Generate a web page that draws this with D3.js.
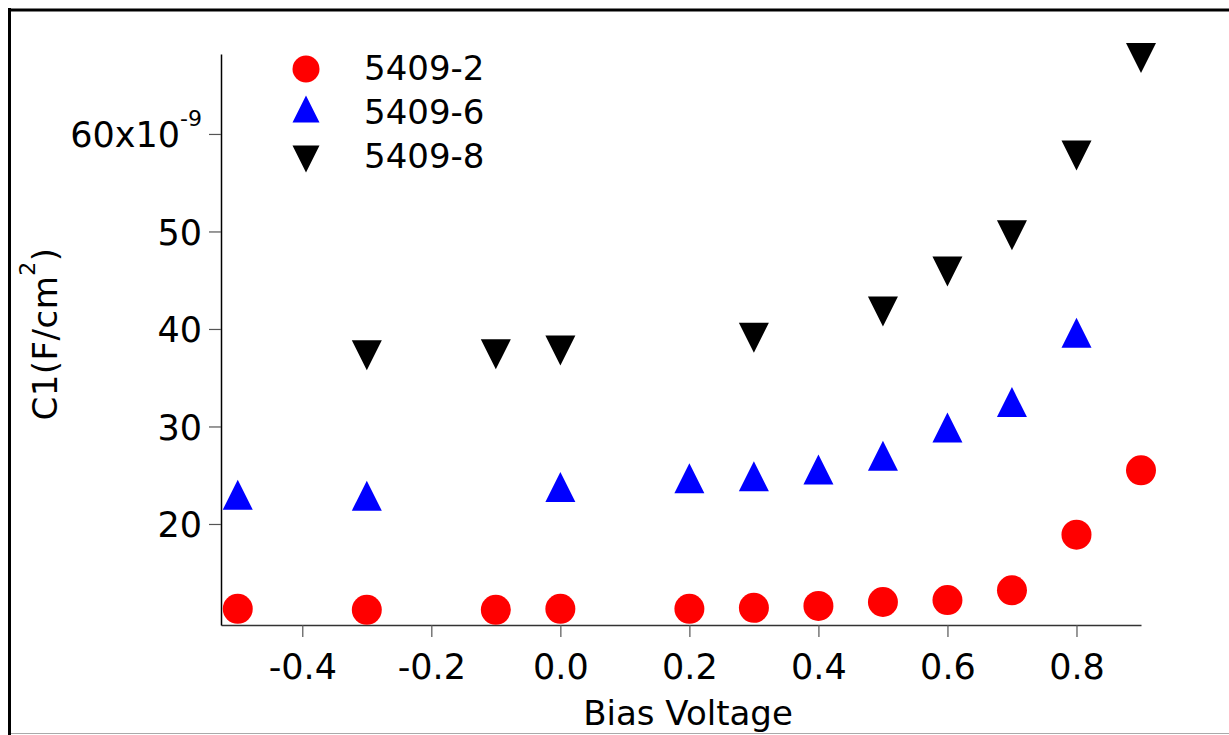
<!DOCTYPE html>
<html>
<head>
<meta charset="utf-8">
<script src="https://cdn.jsdelivr.net/npm/d3@7"></script>
<style>
  html, body { margin: 0; padding: 0; background: #fff; }
  svg { display: block; font-family: "DejaVu Sans", Verdana, sans-serif; }
</style>
</head>
<body>
<svg id="chart" width="1229" height="735"></svg>
<script>
// ---- data (C1 in units of 1e-9 F/cm^2) ----
const seriesNames = ["5409-2", "5409-6", "5409-8"];
const seriesColors = ["#ff0000", "#0000ff", "#000000"];
const seriesShapes = ["circle", "triangleUp", "triangleDown"];

const bias_5409_2 = [-0.5, -0.3, -0.1, 0.0, 0.2, 0.3, 0.4, 0.5, 0.6, 0.7, 0.8, 0.9];
const c1_5409_2   = [11.3, 11.2, 11.2, 11.3, 11.3, 11.4, 11.6, 12.0, 12.2, 13.2, 18.9, 25.5];

const bias_5409_6 = [-0.5, -0.3, 0.0, 0.2, 0.3, 0.4, 0.5, 0.6, 0.7, 0.8];
const c1_5409_6   = [23.0, 22.9, 23.8, 24.7, 24.9, 25.6, 27.0, 29.9, 32.5, 39.6];

const bias_5409_8 = [-0.3, -0.1, 0.0, 0.3, 0.5, 0.6, 0.7, 0.8, 0.9];
const c1_5409_8   = [37.3, 37.4, 37.8, 39.1, 41.8, 45.9, 49.6, 57.8, 67.8];

const xTicks = [-0.4, -0.2, 0.0, 0.2, 0.4, 0.6, 0.8];
const yTicks = [20, 30, 40, 50, 60];
const xLabel = "Bias Voltage";

const series = [
  { x: bias_5409_2, y: c1_5409_2 },
  { x: bias_5409_6, y: c1_5409_6 },
  { x: bias_5409_8, y: c1_5409_8 }
].map((s, i) => ({
  name: seriesNames[i], color: seriesColors[i], shape: seriesShapes[i],
  points: s.x.map((v, j) => ({ x: v, y: s.y[j] }))
}));

// ---- layout ----
const svg = d3.select("#chart");
const plotL = 221, plotR = 1141, plotT = 54, plotB = 625;
const x = d3.scaleLinear().domain([-0.526, 0.9]).range([plotL, plotR]);
const y = d3.scaleLinear().domain([9.64, 68.2]).range([plotB, plotT]);

function markerPath(shape, s) {
  const h = s / 2;
  if (shape === "circle") {
    const p = d3.path(); p.arc(0, 0, h, 0, 2 * Math.PI); p.closePath(); return p.toString();
  }
  if (shape === "triangleUp") return `M0,${-h}L${h},${h}L${-h},${h}Z`;
  return `M0,${h}L${h},${-h}L${-h},${-h}Z`;
}

// frame
svg.append("line").attr("x1", 9.5).attr("x2", 9.5).attr("y1", 8).attr("y2", 735)
  .attr("stroke", "#000").attr("stroke-width", 3);
svg.append("line").attr("x1", 8).attr("x2", 1229).attr("y1", 10).attr("y2", 10)
  .attr("stroke", "#000").attr("stroke-width", 3);
svg.append("line").attr("x1", 11).attr("x2", 1229).attr("y1", 733.5).attr("y2", 733.5)
  .attr("stroke", "#aaa").attr("stroke-width", 1);

// x axis
const xAxis = svg.append("g").attr("transform", `translate(0,${plotB})`)
  .call(d3.axisBottom(x).tickValues(xTicks).tickSize(12).tickSizeOuter(0).tickPadding(17)
    .tickFormat(d => d3.format(".1f")(d).replace("\u2212", "-")));
xAxis.select(".domain").attr("stroke", "#333").attr("stroke-width", 1.5);
xAxis.selectAll(".tick line").attr("stroke", "#555").attr("stroke-width", 1.2);
xAxis.selectAll(".tick text").attr("font-size", 35).attr("fill", "#000")
  .attr("font-family", "DejaVu Sans");

// y axis
const yAxis = svg.append("g").attr("transform", `translate(${plotL},0)`)
  .call(d3.axisLeft(y).tickValues(yTicks).tickSize(12).tickSizeOuter(0).tickPadding(7));
yAxis.select(".domain").attr("stroke", "#000").attr("stroke-width", 1.5);
yAxis.selectAll(".tick line").attr("stroke", "#555").attr("stroke-width", 1.2);
yAxis.selectAll(".tick text").attr("font-size", 35).attr("fill", "#000")
  .attr("font-family", "DejaVu Sans").attr("dy", "0.36em");
yAxis.selectAll(".tick text").filter(d => d === 60).each(function () {
  const t = d3.select(this).text("");
  t.append("tspan").text("60x10");
  t.append("tspan").attr("font-size", 22).attr("dy", "-0.95em").text("-9");
});

// axis labels
svg.append("text").attr("x", 688).attr("y", 725)
  .attr("text-anchor", "middle").attr("font-size", 34).attr("fill", "#000").text(xLabel);

const yl = svg.append("text").attr("transform", "translate(57,334) rotate(-90)")
  .attr("text-anchor", "middle").attr("font-size", 34).attr("fill", "#000")
  .attr("letter-spacing", 0.5);
yl.append("tspan").text("C1(F/cm");
yl.append("tspan").attr("font-size", 22).attr("dy", -22).text("2");
yl.append("tspan").attr("dy", 22).text(")");

// points
series.forEach(s => {
  svg.append("g").selectAll("path").data(s.points).join("path")
    .attr("transform", d => `translate(${x(d.x)},${y(d.y)})`)
    .attr("d", markerPath(s.shape, 30))
    .attr("fill", s.color);
});

// legend
const legendY = [69, 109, 159];
const legendTextY = [80, 124, 168];
series.forEach((s, i) => {
  svg.append("path").attr("transform", `translate(306,${legendY[i]})`)
    .attr("d", markerPath(s.shape, 27)).attr("fill", s.color);
  svg.append("text").attr("x", 364).attr("y", legendTextY[i])
    .attr("font-size", 34).attr("fill", "#000").text(s.name);
});
</script>
</body>
</html>
